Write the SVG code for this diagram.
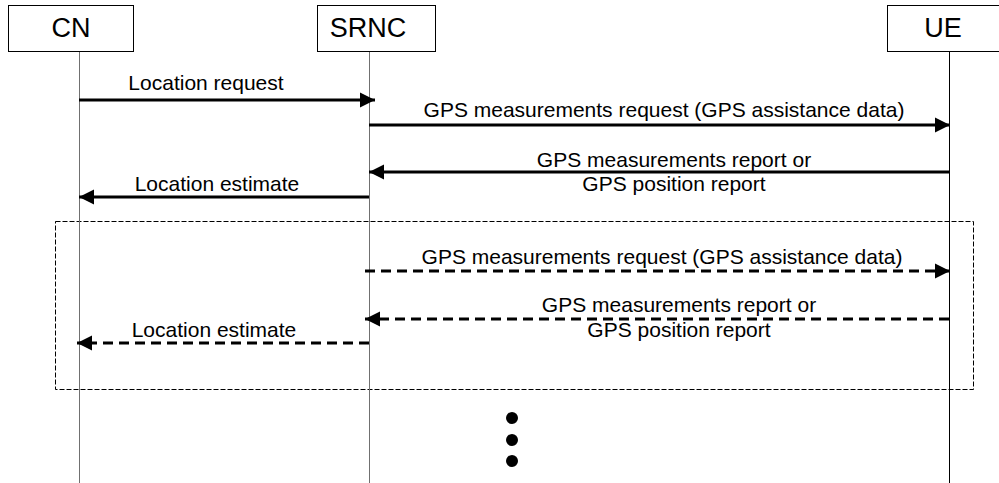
<svg xmlns="http://www.w3.org/2000/svg" width="999" height="483" viewBox="0 0 999 483">
<style>
.box{fill:#fff;stroke:#000;stroke-width:1}
.nl{font-family:"Liberation Sans",Arial,sans-serif;font-size:27px;fill:#000;text-anchor:middle}
.ml{font-family:"Liberation Sans",Arial,sans-serif;font-size:21px;fill:#000;text-anchor:middle}
.life{stroke:#707070;stroke-width:1}
.msg{stroke:#000;stroke-width:3;fill:none;marker-end:url(#ah)}
.dash{stroke-dasharray:10 6}
</style>
<defs>
<marker id="ah" markerUnits="userSpaceOnUse" markerWidth="16" markerHeight="16" refX="15" refY="8" orient="auto">
<path d="M0,0.5 L15,8 L0,15.5 Z" fill="#000"/>
</marker>
</defs>
<rect x="55.5" y="221.5" width="918" height="168" fill="none" stroke="#000" stroke-width="1" stroke-dasharray="5 2"/>
<g id="CN">
<line class="life" x1="79.5" y1="51" x2="79.5" y2="483"/>
<rect class="box" x="8.5" y="5.5" width="125" height="46"/>
<text class="nl" x="71" y="37">CN</text>
</g>
<g id="SRNC">
<line class="life" x1="369.5" y1="51" x2="369.5" y2="483"/>
<rect class="box" x="317.5" y="5.5" width="118" height="46"/>
<text class="nl" x="368" y="37">SRNC</text>
</g>
<g id="UE">
<line x1="949.5" y1="51" x2="949.5" y2="483" stroke="#000" stroke-width="1"/>
<rect class="box" x="887.5" y="5.5" width="120" height="46"/>
<text class="nl" x="943" y="37">UE</text>
</g>
<g id="connectors">
<line class="msg" x1="79" y1="100" x2="375" y2="100"/>
<text class="ml" x="206" y="90">Location request</text>
<line class="msg" x1="369" y1="125" x2="950" y2="125"/>
<text class="ml" x="664" y="117">GPS measurements request (GPS assistance data)</text>
<line class="msg" x1="950" y1="172" x2="369" y2="172"/>
<text class="ml" x="674" y="167">GPS measurements report or</text>
<text class="ml" x="674" y="191">GPS position report</text>
<line class="msg" x1="369" y1="197" x2="79" y2="197"/>
<text class="ml" x="217" y="191">Location estimate</text>
<line class="msg dash" x1="365" y1="271" x2="950" y2="271"/>
<text class="ml" x="662" y="264">GPS measurements request (GPS assistance data)</text>
<line class="msg dash" x1="949" y1="319" x2="365" y2="319"/>
<text class="ml" x="679" y="312">GPS measurements report or</text>
<text class="ml" x="679" y="337">GPS position report</text>
<line class="msg dash" x1="369" y1="343" x2="77" y2="343"/>
<text class="ml" x="214" y="337">Location estimate</text>
</g>
<circle cx="512" cy="418" r="6" fill="#000"/>
<circle cx="512" cy="440" r="6" fill="#000"/>
<circle cx="512" cy="461" r="6" fill="#000"/>
</svg>
